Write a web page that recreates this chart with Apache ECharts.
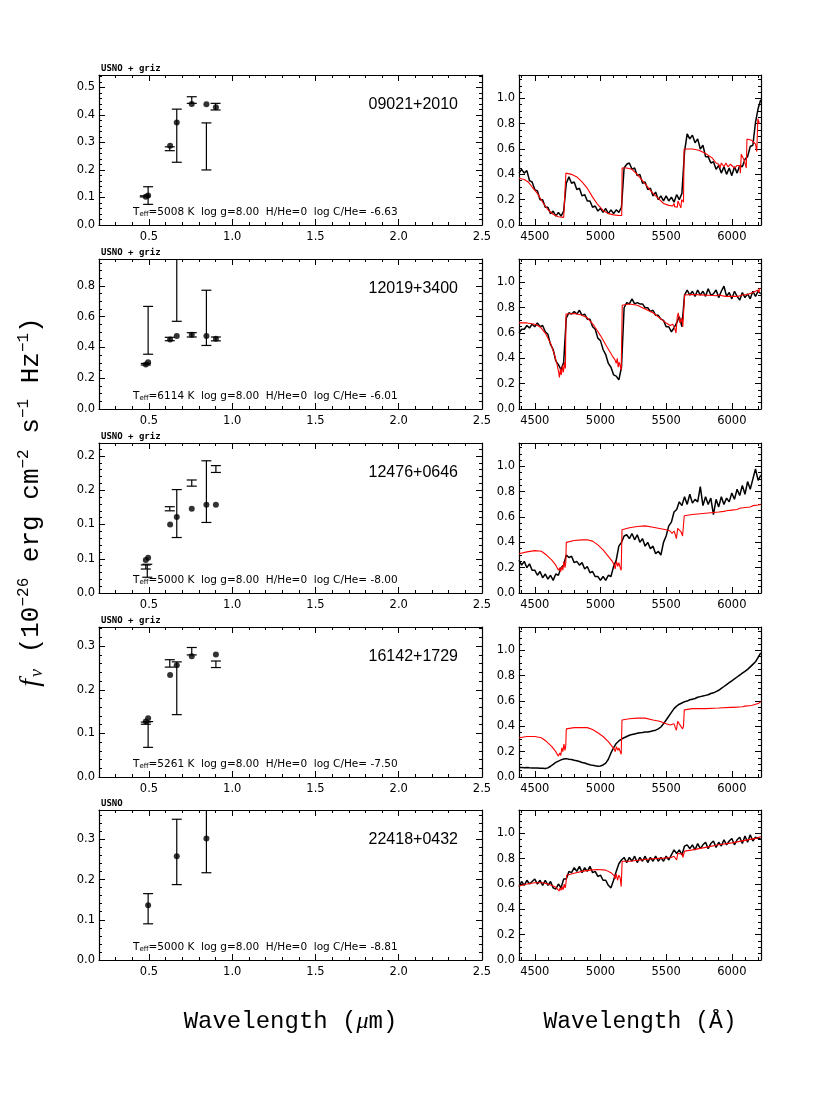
<!DOCTYPE html>
<html><head><meta charset="utf-8">
<script src="https://cdn.jsdelivr.net/npm/echarts@6/dist/echarts.min.js"></script>
<style>html,body{margin:0;padding:0;background:#fff}#c{width:830px;height:1106px}</style>
</head><body><div id="c"></div>
<script>
// ---------------- DATA ----------------
const NAMES = ['09021+2010','12019+3400','12476+0646','16142+1729','22418+0432'];
const PHOT_SRC = ['USNO + griz','USNO + griz','USNO + griz','USNO + griz','USNO'];
const TEFF = ['5008','6114','5000','5261','5000'];
const LOGG = ['8.00','8.00','8.00','8.00','8.00'];
const HHE = ['0','0','0','0','0'];
const LOGC = ['-6.63','-6.01','-8.00','-7.50','-8.81'];

// SED panels: model photometry points
const PT_X_1 = [0.481,0.495,0.627,0.667,0.757,0.845,0.902];
const PT_Y_1 = [0.103,0.107,0.288,0.372,0.440,0.439,0.428];
const PT_X_2 = [0.481,0.495,0.627,0.667,0.757,0.845,0.902];
const PT_Y_2 = [0.289,0.304,0.452,0.474,0.483,0.474,0.457];
const PT_X_3 = [0.481,0.495,0.627,0.667,0.757,0.845,0.902];
const PT_Y_3 = [0.048,0.0515,0.100,0.111,0.123,0.129,0.129];
const PT_X_4 = [0.481,0.495,0.627,0.667,0.757,0.902];
const PT_Y_4 = [0.127,0.135,0.234,0.256,0.277,0.281];
const PT_X_5 = [0.495,0.667,0.845];
const PT_Y_5 = [0.136,0.258,0.302];

// observed photometry with error bars
const ERR_X_1  = [0.495,0.475,0.625,0.667,0.757,0.845,0.900];
const ERR_LO_1 = [0.075,0.102,0.270,0.228,0.442,0.200,0.418];
const ERR_HI_1 = [0.139,0.106,0.284,0.421,0.466,0.371,0.442];
const ERR_X_2  = [0.495,0.481,0.625,0.667,0.757,0.845,0.902];
const ERR_LO_2 = [0.356,0.286,0.444,0.570,0.468,0.413,0.443];
const ERR_HI_2 = [0.667,0.296,0.466,1.300,0.496,0.772,0.468];
const ERR_X_3  = [0.490,0.481,0.625,0.667,0.757,0.845,0.902];
const ERR_LO_3 = [0.023,0.035,0.120,0.081,0.156,0.103,0.176];
const ERR_HI_3 = [0.042,0.041,0.126,0.151,0.165,0.193,0.186];
const ERR_X_4  = [0.495,0.481,0.625,0.667,0.757,0.902];
const ERR_LO_4 = [0.068,0.121,0.252,0.143,0.280,0.251];
const ERR_HI_4 = [0.127,0.126,0.269,0.264,0.297,0.266];
const ERR_X_5  = [0.495,0.667,0.845];
const ERR_LO_5 = [0.090,0.1875,0.217];
const ERR_HI_5 = [0.165,0.350,0.400];

// axes of SED panels
const SED_X_MIN = 0.2, SED_X_MAX = 2.5;
const SED_X_TICKS = [0.5,1.0,1.5,2.0,2.5];
const SED_X_LABELS = ['0.5','1.0','1.5','2.0','2.5'];
const SED_Y_MAX = [0.545,0.975,0.219,0.344,0.373];
const SED_Y_TICKS_1 = [0,0.1,0.2,0.3,0.4,0.5];
const SED_Y_LABELS_1 = ['0.0','0.1','0.2','0.3','0.4','0.5'];
const SED_Y_TICKS_2 = [0,0.2,0.4,0.6,0.8];
const SED_Y_LABELS_2 = ['0.0','0.2','0.4','0.6','0.8'];
const SED_Y_TICKS_3 = [0,0.05,0.1,0.15,0.2];
const SED_Y_LABELS_3 = ['0.0','0.1','0.1','0.2','0.2'];
const SED_Y_TICKS_4 = [0,0.1,0.2,0.3];
const SED_Y_LABELS_4 = ['0.0','0.1','0.2','0.3'];
const SED_Y_TICKS_5 = [0,0.1,0.2,0.3];
const SED_Y_LABELS_5 = ['0.0','0.1','0.2','0.3'];
const SED_Y_MINOR = [0.02,0.05,0.01,0.02,0.02];

// spectra axes
const SP_X_MIN = 4380, SP_X_MAX = 6222;
const SP_X_TICKS = [4500,5000,5500,6000];
const SP_X_LABELS = ['4500','5000','5500','6000'];
const SP_Y_MAX = 1.185;
const SP_Y_TICKS = [0,0.2,0.4,0.6,0.8,1.0];
const SP_Y_LABELS = ['0.0','0.2','0.4','0.6','0.8','1.0'];

// observed spectra wavelength grid (Angstrom)
const WAVE = [4380,4400,4420,4440,4460,4480,4500,4520,4540,4560,
4580,4600,4620,4640,4660,4680,4700,4720,4740,4760,
4780,4800,4820,4840,4860,4880,4900,4920,4940,4960,
4980,5000,5020,5040,5060,5080,5100,5120,5140,5160,
5180,5200,5220,5240,5260,5280,5300,5320,5340,5360,
5380,5400,5420,5440,5460,5480,5500,5520,5540,5560,
5580,5600,5620,5640,5660,5680,5700,5720,5740,5760,
5780,5800,5820,5840,5860,5880,5900,5920,5940,5960,
5980,6000,6020,6040,6060,6080,6100,6120,6140,6160,
6180,6200,6220];

const OBS_1 = [0.41,0.44,0.41,0.43,0.35,0.34,0.28,0.27,0.20,0.20,
0.14,0.14,0.09,0.11,0.07,0.10,0.07,0.11,0.33,0.38,
0.33,0.34,0.28,0.29,0.23,0.24,0.19,0.19,0.14,0.15,
0.11,0.13,0.10,0.13,0.09,0.12,0.09,0.12,0.10,0.14,
0.45,0.48,0.49,0.44,0.45,0.39,0.40,0.33,0.34,0.28,
0.29,0.23,0.26,0.20,0.23,0.19,0.23,0.19,0.22,0.18,
0.24,0.20,0.25,0.58,0.72,0.68,0.71,0.65,0.68,0.60,
0.63,0.54,0.54,0.49,0.50,0.44,0.47,0.41,0.46,0.40,
0.45,0.39,0.46,0.41,0.47,0.46,0.52,0.54,0.62,0.63,
0.81,0.92,0.99];
const OBS_2 = [0.60,0.63,0.63,0.66,0.64,0.67,0.65,0.68,0.65,0.66,
0.61,0.59,0.51,0.47,0.38,0.35,0.31,0.37,0.72,0.76,
0.75,0.77,0.75,0.78,0.74,0.75,0.71,0.71,0.65,0.63,
0.56,0.54,0.47,0.43,0.36,0.33,0.27,0.26,0.23,0.33,
0.80,0.84,0.83,0.87,0.83,0.84,0.83,0.83,0.80,0.80,
0.77,0.78,0.74,0.74,0.71,0.70,0.65,0.65,0.61,0.64,
0.68,0.73,0.65,0.90,0.94,0.90,0.93,0.89,0.94,0.90,
0.93,0.89,0.95,0.90,0.91,0.94,0.88,0.93,0.97,0.89,
0.92,0.87,0.93,0.89,0.86,0.92,0.88,0.91,0.87,0.93,
0.89,0.93,0.91];
const OBS_3 = [0.26,0.22,0.25,0.20,0.23,0.18,0.18,0.14,0.17,0.12,
0.15,0.11,0.14,0.10,0.15,0.14,0.20,0.22,0.30,0.28,
0.29,0.24,0.25,0.22,0.24,0.19,0.21,0.16,0.17,0.13,
0.13,0.10,0.13,0.10,0.14,0.13,0.21,0.26,0.37,0.40,
0.45,0.46,0.43,0.47,0.42,0.46,0.40,0.43,0.37,0.40,
0.35,0.37,0.31,0.33,0.30,0.40,0.45,0.53,0.56,0.64,
0.66,0.72,0.69,0.76,0.70,0.78,0.71,0.74,0.72,0.84,
0.69,0.76,0.70,0.75,0.62,0.74,0.68,0.76,0.70,0.75,
0.72,0.79,0.74,0.82,0.77,0.85,0.78,0.88,0.82,0.90,
0.98,0.89,0.93];
const OBS_4 = [0.075,0.075,0.074,0.075,0.073,0.072,0.072,0.071,0.070,0.069,
0.068,0.072,0.085,0.100,0.115,0.125,0.135,0.142,0.145,0.140,
0.138,0.132,0.128,0.122,0.115,0.110,0.103,0.097,0.092,0.088,
0.085,0.087,0.095,0.110,0.140,0.190,0.230,0.265,0.285,0.300,
0.310,0.320,0.330,0.335,0.340,0.345,0.350,0.352,0.355,0.355,
0.360,0.365,0.370,0.380,0.395,0.420,0.450,0.480,0.510,0.540,
0.560,0.575,0.585,0.595,0.600,0.610,0.615,0.620,0.630,0.635,
0.640,0.645,0.650,0.660,0.665,0.675,0.685,0.700,0.715,0.730,
0.745,0.760,0.775,0.790,0.805,0.820,0.835,0.850,0.870,0.890,
0.910,0.945,0.980];
const OBS_5 = [0.58,0.62,0.59,0.63,0.60,0.62,0.64,0.60,0.63,0.59,
0.63,0.59,0.62,0.57,0.56,0.60,0.57,0.64,0.64,0.70,
0.69,0.73,0.70,0.74,0.69,0.73,0.70,0.74,0.69,0.70,
0.66,0.67,0.63,0.63,0.59,0.57,0.63,0.70,0.76,0.79,
0.81,0.77,0.81,0.78,0.82,0.77,0.81,0.78,0.82,0.77,
0.81,0.78,0.82,0.78,0.81,0.78,0.82,0.79,0.83,0.87,
0.84,0.87,0.83,0.90,0.91,0.88,0.91,0.87,0.92,0.88,
0.91,0.93,0.88,0.92,0.94,0.89,0.93,0.90,0.95,0.91,
0.94,0.96,0.91,0.95,0.97,0.92,0.98,0.93,0.99,0.94,
0.97,0.96,0.96];

// model spectra [wavelength, flux]
const MODEL_1 = [[4380,0.37],[4420,0.36],[4450,0.34],[4480,0.30],[4520,0.25],[4560,0.18],[4600,0.12],[4640,0.085],[4680,0.065],[4720,0.06],[4733,0.065],[4737,0.41],[4780,0.40],[4820,0.38],[4860,0.34],[4900,0.29],[4940,0.22],[4980,0.16],[5020,0.115],[5060,0.09],[5100,0.08],[5140,0.075],[5162,0.075],[5165,0.45],[5200,0.45],[5240,0.44],[5280,0.40],[5320,0.35],[5360,0.30],[5400,0.25],[5440,0.21],[5480,0.17],[5520,0.155],[5550,0.15],[5560,0.17],[5565,0.145],[5585,0.14],[5590,0.19],[5600,0.165],[5612,0.135],[5618,0.20],[5632,0.18],[5637,0.60],[5700,0.60],[5750,0.59],[5800,0.565],[5850,0.53],[5880,0.49],[5900,0.48],[5910,0.45],[5920,0.49],[5940,0.46],[5955,0.49],[5970,0.46],[5990,0.48],[6020,0.45],[6040,0.47],[6060,0.47],[6065,0.41],[6072,0.56],[6095,0.51],[6110,0.45],[6115,0.68],[6150,0.67],[6180,0.64],[6190,0.58],[6198,0.84],[6210,0.80]];
const MODEL_2 = [[4380,0.68],[4440,0.68],[4500,0.67],[4540,0.65],[4580,0.60],[4620,0.52],[4650,0.43],[4670,0.35],[4680,0.30],[4688,0.25],[4695,0.32],[4702,0.27],[4710,0.34],[4718,0.29],[4726,0.37],[4733,0.32],[4738,0.75],[4800,0.755],[4850,0.745],[4900,0.72],[4950,0.66],[5000,0.58],[5050,0.49],[5090,0.42],[5110,0.39],[5120,0.36],[5128,0.40],[5135,0.33],[5142,0.37],[5150,0.38],[5158,0.31],[5166,0.82],[5220,0.83],[5280,0.82],[5340,0.79],[5400,0.76],[5450,0.72],[5500,0.68],[5530,0.66],[5550,0.67],[5565,0.64],[5575,0.60],[5585,0.73],[5592,0.76],[5605,0.68],[5618,0.72],[5627,0.65],[5640,0.90],[5700,0.905],[5800,0.90],[5880,0.895],[5890,0.88],[5900,0.90],[5950,0.89],[6000,0.89],[6050,0.89],[6060,0.88],[6080,0.90],[6120,0.905],[6130,0.92],[6160,0.92],[6180,0.93],[6200,0.94],[6205,0.92],[6210,0.95],[6220,0.95]];
const MODEL_3 = [[4380,0.31],[4440,0.325],[4500,0.335],[4550,0.33],[4590,0.30],[4630,0.26],[4660,0.22],[4680,0.18],[4690,0.20],[4698,0.17],[4706,0.21],[4714,0.18],[4722,0.25],[4730,0.20],[4736,0.24],[4740,0.40],[4800,0.415],[4860,0.42],[4900,0.42],[4940,0.41],[4980,0.38],[5020,0.34],[5060,0.29],[5090,0.25],[5105,0.22],[5112,0.19],[5122,0.25],[5132,0.21],[5140,0.24],[5150,0.20],[5158,0.18],[5164,0.50],[5220,0.515],[5280,0.525],[5340,0.53],[5400,0.52],[5450,0.51],[5500,0.50],[5530,0.49],[5545,0.47],[5560,0.49],[5570,0.46],[5578,0.43],[5588,0.51],[5600,0.50],[5615,0.48],[5625,0.45],[5632,0.46],[5638,0.61],[5700,0.62],[5800,0.63],[5900,0.64],[5940,0.645],[5950,0.635],[5960,0.65],[6000,0.655],[6040,0.66],[6050,0.65],[6060,0.67],[6100,0.675],[6140,0.68],[6150,0.675],[6160,0.69],[6200,0.695],[6210,0.69],[6220,0.70]];
const MODEL_4 = [[4380,0.31],[4440,0.32],[4500,0.32],[4550,0.31],[4590,0.28],[4630,0.24],[4660,0.20],[4680,0.165],[4690,0.19],[4698,0.17],[4706,0.23],[4714,0.20],[4722,0.26],[4730,0.21],[4736,0.25],[4740,0.38],[4800,0.39],[4860,0.39],[4900,0.39],[4940,0.375],[4980,0.35],[5020,0.32],[5060,0.28],[5090,0.24],[5105,0.22],[5112,0.20],[5122,0.24],[5132,0.21],[5140,0.23],[5150,0.22],[5158,0.18],[5164,0.45],[5220,0.46],[5280,0.465],[5340,0.465],[5400,0.45],[5450,0.44],[5500,0.42],[5530,0.41],[5545,0.40],[5560,0.42],[5570,0.39],[5578,0.37],[5588,0.44],[5600,0.42],[5615,0.41],[5625,0.38],[5632,0.40],[5638,0.53],[5700,0.54],[5800,0.54],[5900,0.545],[5990,0.55],[6000,0.535],[6010,0.55],[6080,0.555],[6090,0.54],[6100,0.56],[6150,0.565],[6160,0.575],[6200,0.58],[6210,0.59],[6220,0.595]];
const MODEL_5 = [[4380,0.585],[4440,0.60],[4500,0.61],[4560,0.61],[4600,0.60],[4640,0.585],[4660,0.575],[4675,0.56],[4685,0.545],[4692,0.57],[4700,0.55],[4708,0.58],[4716,0.555],[4724,0.60],[4732,0.57],[4738,0.61],[4742,0.67],[4800,0.685],[4860,0.70],[4920,0.71],[4980,0.715],[5040,0.71],[5080,0.69],[5105,0.665],[5112,0.64],[5120,0.68],[5130,0.63],[5140,0.67],[5150,0.65],[5158,0.58],[5165,0.78],[5220,0.78],[5300,0.79],[5400,0.80],[5480,0.805],[5540,0.81],[5560,0.82],[5575,0.83],[5580,0.79],[5588,0.84],[5620,0.84],[5628,0.81],[5635,0.82],[5640,0.86],[5700,0.87],[5800,0.89],[5900,0.91],[6000,0.925],[6100,0.945],[6200,0.965],[6220,0.975]];

// ---------------- LAYOUT ----------------
const ROW_TOP = [75, 259, 443, 627, 810];
const ROW_H = 150;
const L_LEFT = 99, L_W = 383;
const R_LEFT = 519, R_W = 242;

const PT_X = [PT_X_1,PT_X_2,PT_X_3,PT_X_4,PT_X_5];
const PT_Y = [PT_Y_1,PT_Y_2,PT_Y_3,PT_Y_4,PT_Y_5];
const ERR_X = [ERR_X_1,ERR_X_2,ERR_X_3,ERR_X_4,ERR_X_5];
const ERR_LO = [ERR_LO_1,ERR_LO_2,ERR_LO_3,ERR_LO_4,ERR_LO_5];
const ERR_HI = [ERR_HI_1,ERR_HI_2,ERR_HI_3,ERR_HI_4,ERR_HI_5];
const SED_Y_TICKS = [SED_Y_TICKS_1,SED_Y_TICKS_2,SED_Y_TICKS_3,SED_Y_TICKS_4,SED_Y_TICKS_5];
const SED_Y_LABELS = [SED_Y_LABELS_1,SED_Y_LABELS_2,SED_Y_LABELS_3,SED_Y_LABELS_4,SED_Y_LABELS_5];
const OBS = [OBS_1,OBS_2,OBS_3,OBS_4,OBS_5];
const MODELS = [MODEL_1,MODEL_2,MODEL_3,MODEL_4,MODEL_5];

function minorTicks(min, max, step, majors) {
  const out = [];
  const start = Math.ceil(min / step - 1e-9);
  for (let k = start; k * step <= max + 1e-9; k++) {
    const v = +(k * step).toFixed(6);
    if (!majors.some(m => Math.abs(m - v) < 1e-9)) out.push(v);
  }
  return out;
}

const TICK_FONT = { color: '#000', fontFamily: 'DejaVu Sans', fontSize: 11.5 };
const AX_LINE = { show: true, onZero: false, lineStyle: { color: '#000', width: 1.2 } };

function axesFor(dim, gridIndex, min, max, majors, labels, minors) {
  const isX = dim === 'x';
  const sides = isX ? ['bottom', 'top'] : ['left', 'right'];
  const list = [];
  sides.forEach((pos, si) => {
    list.push({
      gridIndex, type: 'value', min, max, position: pos,
      axisLine: AX_LINE,
      axisTick: { show: true, inside: true, length: 6, customValues: majors, lineStyle: { color: '#000', width: 1 } },
      axisLabel: si === 0 ? Object.assign({
        show: true, customValues: majors, margin: isX ? 6 : 4,
        formatter: v => { const i = majors.findIndex(m => Math.abs(m - v) < 1e-9); return i >= 0 ? labels[i] : ''; }
      }, TICK_FONT) : { show: false },
      splitLine: { show: false }
    });
    list.push({
      gridIndex, type: 'value', min, max, position: pos,
      axisLine: { show: false, onZero: false },
      axisTick: { show: true, inside: true, length: 3, customValues: minors, lineStyle: { color: '#000', width: 1 } },
      axisLabel: { show: false },
      splitLine: { show: false }
    });
  });
  return list;
}

function renderErr(params, api) {
  const x = api.value(0), lo = api.value(1), hi = api.value(2);
  const a = api.coord([x, lo]), b = api.coord([x, hi]);
  const hw = 5;
  const st = { stroke: '#000', lineWidth: 1.2 };
  return { type: 'group', children: [
    { type: 'line', shape: { x1: a[0], y1: a[1], x2: b[0], y2: b[1] }, style: st },
    { type: 'line', shape: { x1: a[0] - hw, y1: a[1], x2: a[0] + hw, y2: a[1] }, style: st },
    { type: 'line', shape: { x1: b[0] - hw, y1: b[1], x2: b[0] + hw, y2: b[1] }, style: st }
  ]};
}

const grid = [], xAxis = [], yAxis = [], series = [], graphic = [];

for (let p = 0; p < 5; p++) {
  const top = ROW_TOP[p];
  // ---- SED panel ----
  const gL = grid.length;
  grid.push({ left: L_LEFT, top, width: L_W, height: ROW_H });
  const xi = xAxis.length, yi = yAxis.length;
  xAxis.push(...axesFor('x', gL, SED_X_MIN, SED_X_MAX, SED_X_TICKS, SED_X_LABELS, minorTicks(SED_X_MIN, SED_X_MAX, 0.1, SED_X_TICKS)));
  yAxis.push(...axesFor('y', gL, 0, SED_Y_MAX[p], SED_Y_TICKS[p], SED_Y_LABELS[p], minorTicks(0, SED_Y_MAX[p], SED_Y_MINOR[p], SED_Y_TICKS[p])));
  series.push({
    type: 'custom', xAxisIndex: xi, yAxisIndex: yi, clip: true, silent: true,
    renderItem: renderErr,
    data: ERR_X[p].map((x, i) => [x, ERR_LO[p][i], ERR_HI[p][i]])
  });
  series.push({
    type: 'scatter', xAxisIndex: xi, yAxisIndex: yi, silent: true,
    symbol: 'circle', symbolSize: 6, itemStyle: { color: '#000' },
    data: PT_X[p].map((x, i) => [x, PT_Y[p][i]])
  });

  // ---- spectrum panel ----
  const gR = grid.length;
  grid.push({ left: R_LEFT, top, width: R_W, height: ROW_H });
  const xj = xAxis.length, yj = yAxis.length;
  xAxis.push(...axesFor('x', gR, SP_X_MIN, SP_X_MAX, SP_X_TICKS, SP_X_LABELS, minorTicks(4400, SP_X_MAX, 100, SP_X_TICKS)));
  yAxis.push(...axesFor('y', gR, 0, SP_Y_MAX, SP_Y_TICKS, SP_Y_LABELS, minorTicks(0, SP_Y_MAX, 0.05, SP_Y_TICKS)));
  series.push({
    type: 'line', xAxisIndex: xj, yAxisIndex: yj, showSymbol: false, silent: true,
    lineStyle: { color: '#000', width: 1.5 },
    data: WAVE.map((w, i) => [w, OBS[p][i]])
  });
  series.push({
    type: 'line', xAxisIndex: xj, yAxisIndex: yj, showSymbol: false, silent: true,
    lineStyle: { color: '#ff0000', width: 1.1 },
    data: MODELS[p]
  });

  // ---- panel texts ----
  graphic.push({ type: 'text', x: L_LEFT + 2, y: top - 6,
    style: { text: PHOT_SRC[p], fill: '#000', font: 'bold 9px "DejaVu Sans Mono"', textAlign: 'left', textVerticalAlign: 'middle' } });
  graphic.push({ type: 'text', x: L_LEFT + 359, y: top + 30,
    style: { text: NAMES[p], fill: '#000', font: '16px "Liberation Sans"', textAlign: 'right', textVerticalAlign: 'middle' } });
  graphic.push({ type: 'text', x: L_LEFT + 34, y: top + 137,
    style: {
      text: '{t|T}{s|eff}{t|=' + TEFF[p] + ' K  log g=' + LOGG[p] + '  H/He=' + HHE[p] + '  log C/He= ' + LOGC[p] + '}',
      rich: {
        t: { fontFamily: 'DejaVu Sans', fontSize: 10.5, fill: '#000' },
        s: { fontFamily: 'DejaVu Sans', fontSize: 7, fill: '#000', padding: [5, 0, 0, 0] }
      },
      textAlign: 'left', textVerticalAlign: 'middle'
    } });
}

// axis titles
graphic.push({ type: 'text', x: L_LEFT + L_W / 2, y: 1022,
  style: { text: '{t|Wavelength (}{i|μ}{t|m)}',
    rich: { t: { fontFamily: 'Liberation Mono', fontSize: 24, fill: '#000' },
            i: { fontFamily: 'Liberation Serif', fontStyle: 'italic', fontSize: 24, fill: '#000' } },
    textAlign: 'center', textVerticalAlign: 'middle' } });
graphic.push({ type: 'text', x: R_LEFT + R_W / 2, y: 1022,
  style: { text: 'Wavelength (Å)', font: '23px "Liberation Mono"', fill: '#000', textAlign: 'center', textVerticalAlign: 'middle' } });
graphic.push({ type: 'text', x: 31, y: 502, rotation: Math.PI / 2,
  style: {
    text: '{it|f}{nu|ν}{t| (10}{sup|−26}{t| erg cm}{sup|−2}{t| s}{sup|−1}{t| Hz}{sup|−1}{t|)}',
    rich: {
      t: { fontFamily: 'Liberation Mono', fontSize: 26, fill: '#000' },
      it: { fontFamily: 'Liberation Serif', fontStyle: 'italic', fontSize: 28, fill: '#000' },
      nu: { fontFamily: 'Liberation Serif', fontStyle: 'italic', fontSize: 18, fill: '#000', padding: [13, 0, 0, 2] },
      sup: { fontFamily: 'Liberation Mono', fontSize: 16, fill: '#000', padding: [0, 0, 15, 0] }
    },
    textAlign: 'center', textVerticalAlign: 'middle'
  } });

const chart = echarts.init(document.getElementById('c'), null, { renderer: 'canvas' });
chart.setOption({ backgroundColor: '#fff', animation: false, grid, xAxis, yAxis, series, graphic });
</script></body></html>
